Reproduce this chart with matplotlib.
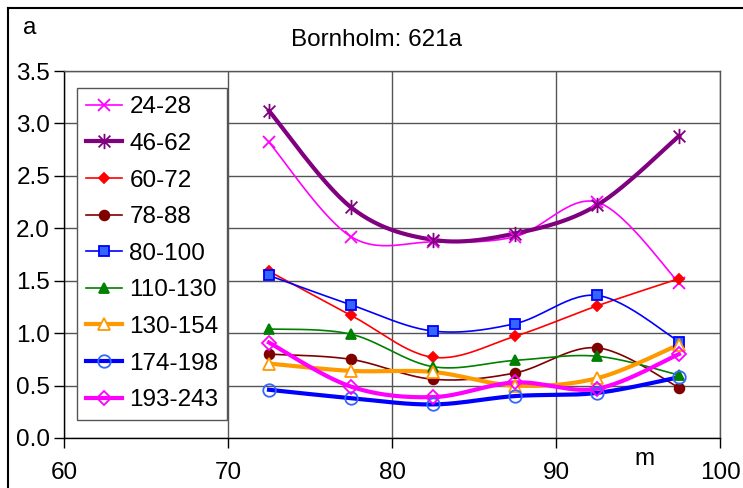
import numpy as np
import matplotlib
matplotlib.use("Agg")
import matplotlib.pyplot as plt
from matplotlib.lines import Line2D
from matplotlib.path import Path

plt.rcParams['font.family'] = ['Liberation Sans', 'DejaVu Sans']

# depth (m) at each sampling point
depth = [72.5, 77.5, 82.5, 87.5, 92.5, 97.5]

labels = ["24-28", "46-62", "60-72", "78-88", "80-100",
          "110-130", "130-154", "174-198", "193-243"]

s_24_28 = [2.82, 1.92, 1.87, 1.92, 2.25, 1.48]
s_46_62 = [3.12, 2.20, 1.89, 1.95, 2.22, 2.88]
s_60_72 = [1.59, 1.17, 0.77, 0.97, 1.26, 1.52]
s_78_88 = [0.80, 0.75, 0.56, 0.62, 0.86, 0.48]
s_80_100 = [1.55, 1.27, 1.02, 1.09, 1.36, 0.92]
s_110_130 = [1.04, 0.99, 0.68, 0.74, 0.78, 0.60]
s_130_154 = [0.71, 0.64, 0.63, 0.50, 0.57, 0.89]
s_174_198 = [0.46, 0.38, 0.32, 0.40, 0.43, 0.58]
s_193_243 = [0.91, 0.49, 0.39, 0.53, 0.47, 0.80]

series = [s_24_28, s_46_62, s_60_72, s_78_88, s_80_100,
          s_110_130, s_130_154, s_174_198, s_193_243]

# excel-like star marker: an X with a vertical bar
star = Path([(-1, -1), (1, 1), (-1, 1), (1, -1), (0, -1.3), (0, 1.3)],
            [Path.MOVETO, Path.LINETO, Path.MOVETO, Path.LINETO, Path.MOVETO, Path.LINETO])

# line colour, width, marker, size, marker face, marker edge
styles = [
    ("#FF00FF", 1.2, "x", 9, "none", "#FF00FF"),
    ("#800080", 3.0, star, 11, "none", "#800080"),
    ("#FF0000", 1.2, "D", 5, "#FF0000", "#FF0000"),
    ("#800000", 1.2, "o", 7, "#800000", "#800000"),
    ("#0000FF", 1.2, "s", 7, "#3366FF", "#0000FF"),
    ("#008000", 1.2, "^", 7, "#008000", "#008000"),
    ("#FF9900", 3.0, "^", 9, "white", "#FF9900"),
    ("#0000FF", 3.0, "o", 9, "none", "#3366FF"),
    ("#FF00FF", 3.0, "D", 7, "none", "#FF00FF"),
]

FS = 17.5


def smooth(x, y, n=30):
    # Catmull-Rom style bezier smoothing like Excel's smoothed lines
    p = np.column_stack([x, y]).astype(float)
    pts = np.vstack([p[0], p, p[-1]])
    out = []
    t = np.linspace(0, 1, n)[:, None]
    for i in range(1, len(pts) - 2):
        p0, p1 = pts[i], pts[i + 1]
        b1 = p0 + (pts[i + 1] - pts[i - 1]) / 6
        b2 = p1 - (pts[i + 2] - pts[i]) / 6
        seg = (1 - t)**3 * p0 + 3 * (1 - t)**2 * t * b1 + 3 * (1 - t) * t**2 * b2 + t**3 * p1
        out.append(seg)
    c = np.vstack(out)
    return c[:, 0], c[:, 1]


fig = plt.figure(figsize=(7.43, 4.88), dpi=100)
ax = fig.add_axes([64 / 743, 1 - 438 / 488, 656 / 743, 367 / 488])

handles = []
for y, lab, (col, lw, mk, ms, mfc, mec) in zip(series, labels, styles):
    sx, sy = smooth(depth, y)
    ax.plot(sx, sy, color=col, lw=lw, zorder=3)
    ax.plot(depth, y, ls="none", marker=mk, ms=ms, mfc=mfc, mec=mec,
            mew=1.3, zorder=4)
    handles.append(Line2D([], [], color=col, lw=lw, marker=mk, ms=ms,
                          mfc=mfc, mec=mec, mew=1.3))

ax.set_xlim(60, 100)
ax.set_ylim(0, 3.5)
ax.set_xticks([60, 70, 80, 90, 100])
ax.set_yticks(np.arange(0, 3.51, 0.5))
ax.yaxis.set_major_formatter(matplotlib.ticker.FormatStrFormatter("%.1f"))
ax.grid(True, color="#555555", lw=1.0)
ax.set_axisbelow(True)
for sp in ax.spines.values():
    sp.set_color("#555555")
    sp.set_linewidth(1.0)
ax.spines["left"].set_color("black")
ax.spines["bottom"].set_color("black")
ax.tick_params(direction="out", length=7, width=1, labelsize=FS, pad=3)
ax.tick_params(axis="x", pad=10)

leg = ax.legend(handles, labels, loc="upper left", bbox_to_anchor=(0.02, 0.954),
                borderaxespad=0, fontsize=FS, handlelength=1.5, handletextpad=0.3,
                labelspacing=0.6, fancybox=False, framealpha=1, borderpad=0.35)
leg.get_frame().set_edgecolor("#555555")
leg.get_frame().set_linewidth(1.0)

fig.text(30 / 743, 1 - 28 / 488, "a", fontsize=FS, ha="center", va="center")
fig.text(376 / 743, 1 - 40 / 488, "Bornholm: 621a", fontsize=FS, ha="center", va="center")
fig.text(645 / 743, 1 - 459 / 488, "m", fontsize=FS, ha="center", va="center")

# outer chart frame (top and left visible)
fig.add_artist(Line2D([8 / 743, 8 / 743], [0, 1 - 8 / 488], color="black", lw=1.5,
                      transform=fig.transFigure))
fig.add_artist(Line2D([8 / 743, 1], [1 - 8 / 488, 1 - 8 / 488], color="black", lw=1.5,
                      transform=fig.transFigure))

fig.savefig("out.png", dpi=100)
